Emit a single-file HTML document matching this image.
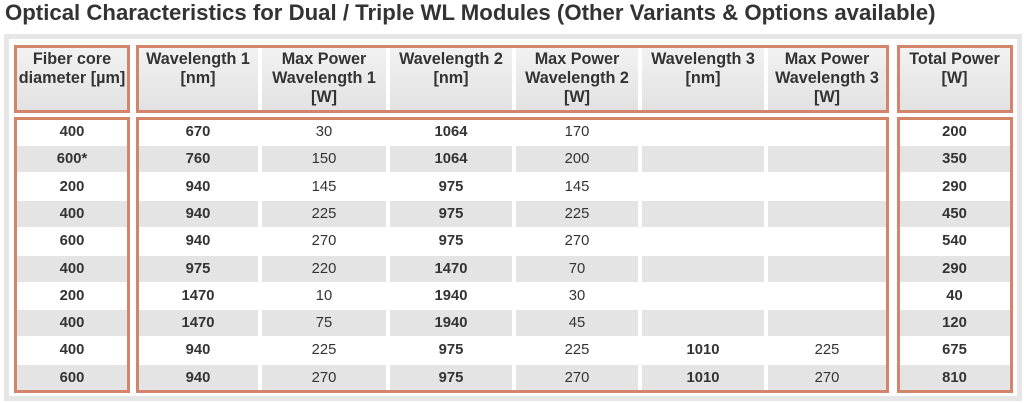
<!DOCTYPE html><html><head><style>
body{margin:0;width:1024px;height:403px;background:#fff;font-family:"Liberation Sans",sans-serif;position:relative;overflow:hidden}
.t{position:absolute;left:5px;top:0px;font-size:22.2px;font-weight:bold;color:#333;white-space:nowrap}
.fr{position:absolute;left:4px;top:34px;width:1008px;height:357px;border:5px solid #e6e6e6;background:#fff}
.c{position:absolute;display:flex;align-items:center;justify-content:center;text-align:center;font-size:14.8px;color:#333}
.h{background:linear-gradient(#f2f2f2,#e2e2e2);font-weight:bold;font-size:16.2px;line-height:19px;align-items:flex-start;padding-top:3px;box-sizing:border-box}
.g{background:#e4e4e4}
.b{font-weight:bold}
.box{position:absolute;border:3px solid #d4846a;box-sizing:border-box}
</style></head><body>
<div class="t">Optical Characteristics for Dual / Triple WL Modules (Other Variants &amp; Options available)</div>
<div class="fr"></div>
<div id="cells"></div>
<script>
const cols=[[16,128],[138,258],[262,386],[390,512],[516,638],[642,764],[768,886],[899,1010]];
const hdr=["Fiber core<br>diameter [µm]","Wavelength 1<br>[nm]","Max Power<br>Wavelength 1<br>[W]","Wavelength 2<br>[nm]","Max Power<br>Wavelength 2<br>[W]","Wavelength 3<br>[nm]","Max Power<br>Wavelength 3<br>[W]","Total Power<br>[W]"];
const rows=[["400","670","30","1064","170","","","200"],["600*","760","150","1064","200","","","350"],["200","940","145","975","145","","","290"],["400","940","225","975","225","","","450"],["600","940","270","975","270","","","540"],["400","975","220","1470","70","","","290"],["200","1470","10","1940","30","","","40"],["400","1470","75","1940","45","","","120"],["400","940","225","975","225","1010","225","675"],["600","940","270","975","270","1010","270","810"]];
let h="";
cols.forEach((c,i)=>{h+=`<div class="c h" style="left:${c[0]}px;top:47px;width:${c[1]-c[0]}px;height:63px">${hdr[i]}</div>`});
rows.forEach((r,j)=>{const y=119+j*27.3;r.forEach((v,i)=>{const c=cols[i];const bold=(i==0||i==1||i==3||i==5||i==7);h+=`<div class="c ${j%2?'g':''} ${bold?'b':''}" style="left:${c[0]}px;top:${y}px;width:${c[1]-c[0]}px;height:26px">${v}</div>`})});
[[14,130],[136,889],[897,1013]].forEach(b=>{h+=`<div class="box" style="left:${b[0]}px;top:45px;width:${b[1]-b[0]}px;height:68px"></div><div class="box" style="left:${b[0]}px;top:117px;width:${b[1]-b[0]}px;height:276px"></div>`});
document.getElementById("cells").innerHTML=h;
</script>
</body></html>
